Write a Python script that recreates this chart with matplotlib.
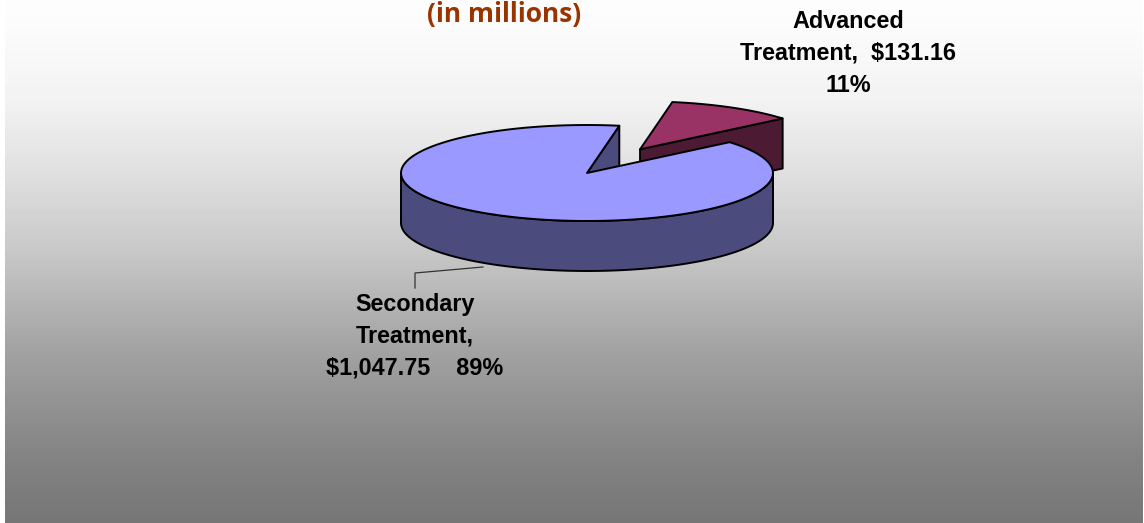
import numpy as np
import matplotlib
matplotlib.use("Agg")
import matplotlib.pyplot as plt
from matplotlib.patches import Polygon

# ---- data ----
categories = ["Secondary Treatment", "Advanced Treatment"]
values = [1047.75, 131.16]
value_labels = ["$1,047.75", "$131.16"]
pct_labels = ["89%", "11%"]
title = "(in millions)"

# ---- geometry / style ----
W, H = 1144, 523
cx, cy = 587, 173
a, b = 186, 48
depth = 50
boundary = 80.0          # angle where the small slice ends
explode = 0.57
top_colors = ["#9999ff", "#993366"]
side_colors = ["#4b4b7e", "#4c1a33"]
edge = "black"
lw = 1.4

fig = plt.figure(figsize=(W / 100, H / 100), dpi=100)
fig.patch.set_facecolor("white")
ax = fig.add_axes([0, 0, 1, 1])
ax.set_xlim(0, W)
ax.set_ylim(H, 0)
ax.axis("off")

# background gradient
ys = np.arange(H)
cp_y = [0, 30, 100, 170, 250, 300, 350, 400, 460, 523]
cp_v = [253, 251, 242, 224, 200, 181, 162, 147, 130, 118]
g = np.interp(ys, cp_y, cp_v) / 255.0
img = np.repeat(g[:, None], W, axis=1)
ax.imshow(img, cmap="gray", vmin=0, vmax=1, extent=(5, W - 1, H, 0),
          aspect="auto", interpolation="nearest", zorder=0)

total = sum(values)
spans = [v / total * 360.0 for v in values]


def pt(t, ox=0.0, oy=0.0, dz=0.0):
    r = np.deg2rad(t)
    return (ox + cx + a * np.cos(r), oy + cy - b * np.sin(r) + dz)


def arc(t0, t1, ox=0.0, oy=0.0, dz=0.0, n=120):
    ts = np.linspace(t0, t1, n)
    return [pt(t, ox, oy, dz) for t in ts]


def poly(pts, fc, z):
    ax.add_patch(Polygon(pts, closed=True, facecolor=fc, edgecolor=edge,
                         linewidth=lw, joinstyle="round", zorder=z))


# ---- small (exploded) slice ----
s0 = boundary - spans[1]
s1 = boundary
mid = np.deg2rad((s0 + s1) / 2)
ox = explode * a * np.cos(mid)
oy = -explode * b * np.sin(mid)
apex = (cx + ox, cy + oy)
p0t = pt(s0, ox, oy)
p0b = pt(s0, ox, oy, depth)
poly([apex, p0t, p0b, (apex[0], apex[1] + depth)], side_colors[1], 2)
poly([apex] + arc(s0, s1, ox, oy), top_colors[1], 3)

# ---- large slice ----
m0 = boundary
m1 = boundary + spans[0]
c = (cx, cy)
# radial face at boundary
pbt = pt(m0)
pbb = pt(m0, dz=depth)
poly([c, pbt, pbb, (cx, cy + depth)], side_colors[0], 4)
# front rim
front = arc(180, 360)
front_b = arc(360, 180, dz=depth)
poly(front + front_b, side_colors[0], 5)
# top face
poly([c] + arc(m0, m1), top_colors[0], 6)

# leader line
ax.plot([483, 415, 415], [267, 273, 288], color="#333333", lw=0.9, zorder=7)

# ---- labels ----
lab_font = dict(family=["Liberation Sans", "DejaVu Sans"], weight="bold",
                fontsize=16.8, color="black", ha="center", va="center",
                linespacing=1.5, zorder=10)
ax.text(848, 53, "Advanced\n" + "Treatment,  " + value_labels[1] + "\n" + pct_labels[1],
        **lab_font)
ax.text(415, 336, "Secondary\nTreatment,\n" + value_labels[0] + "    " + pct_labels[0],
        **lab_font)

ax.text(504, 22, title, family=["Open Sans", "DejaVu Sans"], weight="bold",
        fontsize=19, color="#993300", ha="center", va="baseline", zorder=10)

fig.savefig("out.png", dpi=100)
